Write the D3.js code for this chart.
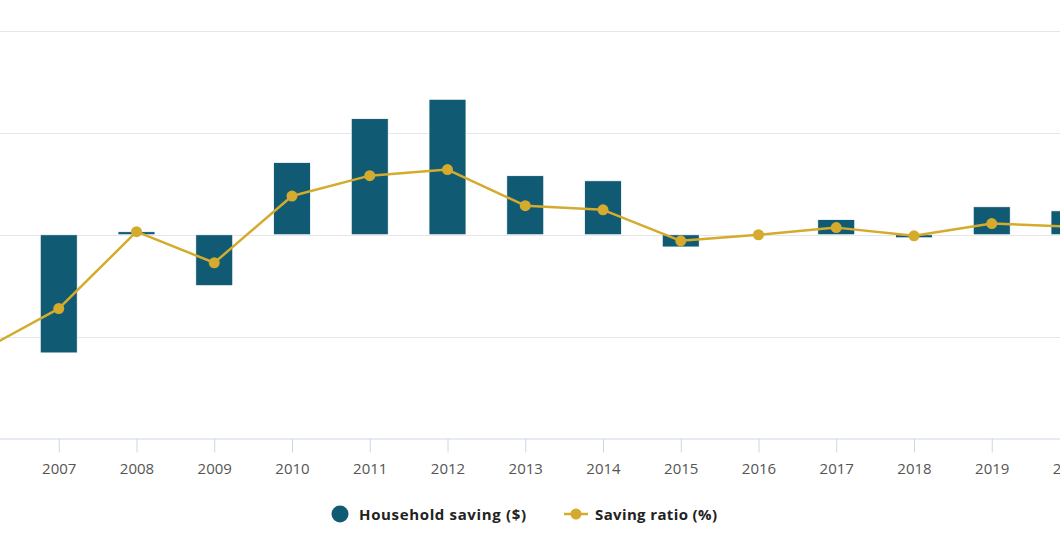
<!DOCTYPE html>
<html><head><meta charset="utf-8">
<script src="https://cdn.jsdelivr.net/npm/d3@7"></script>
<style>body{margin:0;background:#fff;overflow:hidden}svg{display:block;font-family:"Open Sans",sans-serif}</style>
</head><body><svg id="c" width="1060" height="545"></svg>
<script>
const years = ["2006","2007","2008","2009","2010","2011","2012","2013","2014","2015","2016","2017","2018","2019","2020"];
const saving = [-4.0,-11.6,0.3,-5.0,7.1,11.4,13.3,5.8,5.3,-1.2,0.05,1.5,-0.3,2.75,2.35];
const ratio = [-11.4,-7.25,0.3,-2.75,3.8,5.8,6.4,2.85,2.45,-0.6,0.0,0.7,-0.1,1.1,0.8];
const yTicks = [-10,0,10,20];

const svg = d3.select("#c");
const x = d3.scalePoint().domain(years).range([-19, -19 + 14*77.75]);
const y = d3.scaleLinear().domain([-20,20]).range([438.5,31]);
const barW = 37;

// grid
svg.append("g").selectAll("line").data(yTicks).join("line")
  .attr("x1",0).attr("x2",1060).attr("y1",d=>Math.round(y(d))+0.5).attr("y2",d=>Math.round(y(d))+0.5)
  .attr("stroke","#e6e6e6").attr("stroke-width",1);

// x axis
const xa = svg.append("g").attr("transform",`translate(0,${Math.round(y(-20))-0.5})`)
  .call(d3.axisBottom(x).tickSize(14).tickPadding(11));
xa.select(".domain").attr("stroke","#ccd6eb").attr("d","M-100,0.5H1200");
xa.selectAll(".tick line").attr("stroke","#ccd6eb");
xa.selectAll(".tick text").attr("fill","#555").style("font-size","15px").style("font-family","'Open Sans',sans-serif");

// bars
svg.append("g").selectAll("rect").data(years).join("rect")
  .attr("x",(d)=>x(d)-barW/2)
  .attr("y",(d,i)=>y(Math.max(0,saving[i])))
  .attr("width",barW)
  .attr("height",(d,i)=>Math.abs(y(saving[i])-y(0)))
  .attr("fill","#115a73").attr("stroke","#fff").attr("stroke-width",0.8);

// line
const line = d3.line().x((d,i)=>x(years[i])).y(d=>y(d));
svg.append("path").datum(ratio).attr("d",line).attr("fill","none")
  .attr("stroke","#d4ab2d").attr("stroke-width",2.5).attr("stroke-linejoin","round");
svg.append("g").selectAll("circle").data(ratio).join("circle")
  .attr("cx",(d,i)=>x(years[i])).attr("cy",d=>y(d)).attr("r",5.5).attr("fill","#d4ab2d");

// legend
const lg = svg.append("g").style("font-size","15px").style("font-weight","bold").attr("fill","#222");
lg.append("circle").attr("cx",340).attr("cy",514).attr("r",8.5).attr("fill","#115a73");
lg.append("text").attr("x",359).attr("y",519.5).attr("textLength",167).text("Household saving ($)");
lg.append("line").attr("x1",564).attr("x2",588).attr("y1",514).attr("y2",514).attr("stroke","#d4ab2d").attr("stroke-width",2.5);
lg.append("circle").attr("cx",576).attr("cy",514).attr("r",5.5).attr("fill","#d4ab2d");
lg.append("text").attr("x",595).attr("y",519.5).attr("textLength",122).text("Saving ratio (%)");
</script></body></html>
